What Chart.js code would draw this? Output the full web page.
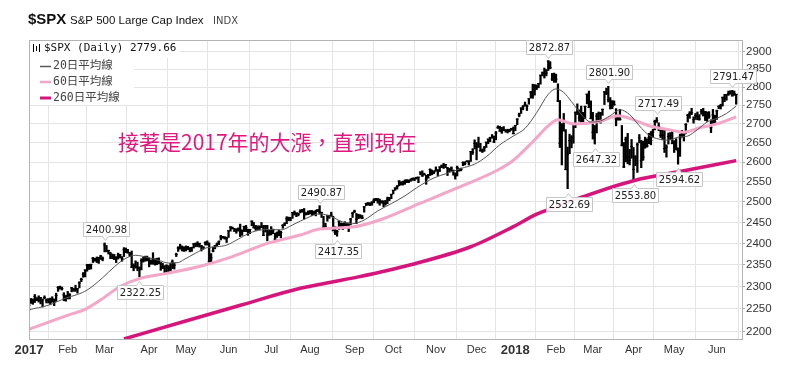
<!DOCTYPE html>
<html lang="zh-Hant">
<head>
  <meta charset="UTF-8">
  <title>$SPX S&amp;P 500 Large Cap Index</title>
  <script src="https://cdn.jsdelivr.net/npm/chart.js@4.4.0/dist/chart.umd.min.js"></script>
  <style>
    html, body { margin: 0; padding: 0; background: #fff; }
    #wrap { width: 800px; height: 368px; }
  </style>
</head>
<body>
  <div id="wrap"><canvas id="spx" width="800" height="368"></canvas></div>

  <script>
    // x axis: trading-day index of the first session of each month
    const monthStarts = [0, 20, 39, 62, 81, 103, 125, 145, 168, 188, 210, 231, 251, 272, 291, 312, 333, 355];
    const monthLabels = ['2017', 'Feb', 'Mar', 'Apr', 'May', 'Jun', 'Jul', 'Aug', 'Sep', 'Oct', 'Nov', 'Dec',
                         '2018', 'Feb', 'Mar', 'Apr', 'May', 'Jun'];
    const yTicks = [2200, 2250, 2300, 2350, 2400, 2450, 2500, 2550, 2600, 2650, 2700, 2750, 2800, 2850, 2900];

    // daily bars, Jan 3 2017 .. Jun 15 2018 (one line per month)
    const highs = [
      2264,2273,2272,2282,2275,2279,2275,2272,2279,2272,2272,2274,2277,2272,2285,2300,2301,2299,2286,2279,
      2289,2284,2298,2296,2303,2296,2311,2319,2332,2338,2351,2351,2351,2367,2365,2368,2367,2372,2368,
      2401,2395,2384,2379,2375,2374,2369,2377,2374,2369,2390,2389,2386,2379,2382,2352,2359,2356,2345,2364,2367,2370,2370,
      2366,2361,2378,2364,2365,2366,2355,2353,2348,2349,2348,2353,2361,2354,2377,2392,2398,2394,2392,
      2394,2393,2390,2391,2399,2401,2404,2400,2395,2392,2404,2406,2401,2376,2391,2395,2401,2406,2419,2416,2416,2415,
      2430,2440,2439,2436,2435,2437,2446,2432,2441,2443,2434,2433,2454,2450,2443,2442,2442,2450,2443,2443,2443,2431,
      2440,2434,2424,2427,2432,2429,2445,2449,2464,2463,2462,2474,2478,2473,2473,2481,2482,2484,2474,2478,
      2479,2479,2477,2480,2481,2491,2475,2465,2448,2468,2467,2475,2465,2440,2431,2453,2449,2448,2452,2449,2449,2460,2475,
      2480,2472,2470,2469,2467,2489,2497,2498,2498,2500,2508,2509,2508,2507,2503,2503,2504,2512,2511,2519,
      2529,2535,2541,2553,2550,2552,2555,2555,2555,2558,2560,2560,2562,2562,2575,2578,2572,2567,2569,2583,2580,2578,
      2588,2581,2588,2593,2597,2594,2587,2584,2588,2580,2573,2590,2584,2585,2601,2601,2604,2604,2628,2635,2658,
      2651,2665,2649,2634,2641,2652,2660,2665,2672,2668,2680,2695,2694,2691,2693,2685,2686,2686,2688,2692,
      2696,2714,2729,2743,2749,2759,2751,2768,2788,2808,2807,2806,2810,2833,2842,2853,2849,2873,2871,2838,2839,
      2836,2809,2763,2701,2728,2685,2639,2673,2669,2702,2732,2754,2738,2748,2731,2748,2781,2789,2762,
      2731,2696,2728,2732,2731,2740,2787,2797,2802,2771,2763,2762,2741,2724,2739,2696,2651,2665,2675,2633,2659,
      2638,2617,2650,2672,2657,2654,2665,2661,2675,2680,2686,2710,2717,2703,2684,2683,2684,2645,2676,2677,2683,
      2655,2661,2637,2673,2683,2676,2701,2726,2733,2742,2719,2728,2732,2725,2739,2742,2733,2732,2733,2711,2739,2723,
      2737,2749,2753,2772,2780,2779,2789,2790,2791,2789,2780
    ];
    const lows = [
      2245,2262,2260,2264,2268,2265,2261,2254,2272,2263,2263,2259,2265,2257,2267,2289,2294,2292,2268,2267,
      2272,2272,2288,2289,2289,2285,2297,2311,2321,2322,2335,2339,2340,2355,2358,2355,2353,2362,2359,
      2380,2380,2375,2364,2364,2362,2355,2363,2366,2358,2369,2378,2377,2369,2344,2336,2342,2336,2322,2338,2356,2358,2359,
      2345,2351,2351,2349,2350,2352,2337,2341,2329,2333,2333,2335,2341,2340,2369,2381,2387,2382,2381,
      2382,2385,2380,2381,2389,2392,2392,2391,2382,2386,2396,2396,2356,2353,2380,2387,2393,2397,2408,2412,2410,2402,
      2414,2429,2434,2429,2424,2429,2416,2419,2428,2428,2419,2423,2442,2437,2431,2433,2433,2437,2419,2427,2406,2419,
      2420,2423,2408,2414,2418,2413,2436,2442,2447,2454,2454,2460,2468,2464,2466,2473,2475,2458,2468,2469,
      2471,2467,2469,2466,2476,2470,2462,2438,2437,2453,2460,2464,2430,2421,2417,2433,2437,2433,2442,2439,2428,2444,2462,
      2474,2447,2459,2460,2459,2475,2491,2492,2491,2492,2498,2503,2497,2492,2497,2488,2492,2496,2503,2508,
      2520,2529,2532,2540,2542,2542,2544,2548,2548,2552,2554,2553,2557,2548,2568,2564,2567,2544,2560,2566,2568,2571,
      2577,2566,2576,2586,2584,2586,2566,2576,2577,2567,2557,2565,2577,2578,2591,2593,2601,2593,2602,2620,2634,
      2606,2639,2628,2625,2628,2638,2648,2653,2663,2651,2658,2688,2681,2675,2682,2678,2676,2679,2683,2674,
      2682,2698,2719,2728,2738,2748,2736,2753,2770,2769,2778,2793,2798,2808,2831,2825,2831,2846,2851,2818,2813,
      2813,2760,2638,2593,2681,2581,2533,2622,2637,2649,2690,2725,2707,2701,2698,2714,2754,2744,2714,
      2660,2647,2676,2711,2702,2723,2752,2779,2759,2740,2741,2750,2695,2710,2710,2642,2586,2601,2596,2593,2610,
      2554,2591,2574,2650,2586,2605,2636,2639,2648,2645,2665,2684,2704,2682,2664,2658,2625,2613,2647,2659,2648,
      2625,2632,2595,2615,2665,2655,2674,2705,2715,2725,2702,2712,2711,2710,2726,2721,2709,2707,2715,2677,2701,2701,
      2712,2741,2740,2748,2760,2764,2777,2780,2775,2777,2753
    ];
    const closes = [
      2258,2271,2269,2277,2269,2269,2275,2270,2275,2268,2272,2264,2271,2265,2280,2298,2297,2295,2281,2279,
      2280,2281,2297,2293,2293,2295,2308,2316,2328,2338,2349,2347,2351,2365,2363,2364,2367,2370,2364,
      2396,2382,2383,2375,2368,2363,2365,2373,2373,2365,2385,2381,2378,2373,2344,2348,2346,2344,2342,2359,2361,2368,2363,
      2359,2360,2353,2357,2356,2357,2354,2345,2329,2349,2342,2338,2356,2349,2374,2389,2387,2389,2384,
      2388,2391,2388,2390,2399,2399,2397,2400,2394,2391,2402,2401,2357,2366,2382,2394,2398,2404,2415,2416,2413,2412,
      2430,2439,2436,2429,2433,2434,2432,2429,2440,2438,2432,2433,2453,2437,2436,2435,2438,2439,2419,2441,2420,2423,
      2429,2433,2410,2425,2427,2426,2443,2448,2459,2459,2461,2474,2473,2473,2470,2477,2478,2475,2472,2470,
      2476,2478,2472,2477,2481,2475,2474,2438,2441,2466,2465,2468,2430,2426,2428,2453,2444,2439,2443,2444,2446,2458,2472,
      2477,2458,2466,2465,2461,2488,2496,2498,2496,2500,2504,2507,2508,2501,2502,2497,2497,2507,2510,2519,
      2529,2535,2538,2552,2549,2545,2551,2555,2551,2553,2558,2559,2561,2562,2575,2565,2569,2557,2560,2581,2573,2575,
      2579,2580,2588,2591,2591,2594,2585,2582,2585,2579,2565,2586,2579,2582,2599,2597,2602,2601,2627,2626,2648,
      2642,2639,2630,2629,2637,2652,2660,2664,2663,2652,2676,2690,2681,2679,2685,2683,2681,2683,2688,2674,
      2696,2713,2724,2743,2748,2751,2748,2768,2786,2776,2803,2798,2810,2833,2839,2838,2839,2873,2854,2822,2824,
      2822,2762,2649,2695,2682,2581,2620,2656,2663,2699,2731,2732,2716,2701,2704,2747,2780,2744,2714,
      2678,2691,2721,2728,2727,2739,2787,2783,2765,2749,2747,2752,2713,2717,2712,2644,2588,2659,2613,2605,2641,
      2582,2614,2645,2663,2604,2613,2657,2642,2664,2656,2678,2706,2709,2693,2670,2670,2635,2639,2667,2670,2648,
      2655,2636,2630,2663,2673,2672,2698,2723,2728,2730,2711,2722,2720,2713,2733,2724,2733,2728,2721,2690,2724,2705,
      2735,2747,2749,2772,2770,2779,2782,2787,2776,2782,2780
    ];

    // moving averages (day index -> value)
    const ma20Days = [0, 10, 19, 25, 30, 38, 44, 50, 55, 61, 67, 72, 77, 80, 86, 92, 97, 102, 108, 114, 120, 124,
                      130, 136, 144, 150, 156, 162, 167, 173, 180, 187, 194, 200, 209, 216, 223, 230, 236, 243, 250,
                      256, 262, 268, 272, 276, 280, 286, 290, 295, 300, 305, 310, 315, 320, 325, 330, 335, 340, 345,
                      350, 355, 360, 365];
    const ma20 = [2248, 2258, 2274, 2282, 2292, 2320, 2345, 2365, 2372, 2367, 2360, 2354, 2355, 2362, 2377, 2390, 2392,
                  2396, 2410, 2425, 2432, 2433, 2432, 2444, 2462, 2471, 2464, 2451, 2447, 2456, 2478, 2496, 2515, 2535,
                  2560, 2572, 2584, 2595, 2614, 2645, 2668, 2688, 2730, 2780, 2795, 2785, 2760, 2720, 2705, 2708, 2722,
                  2738, 2725, 2695, 2670, 2660, 2657, 2665, 2668, 2685, 2705, 2715, 2728, 2748];

    const ma60Days = [0, 21, 28, 37, 47, 57, 71, 88, 105, 123, 140, 150, 167, 181, 202, 221, 242, 250, 260, 268, 273,
                      281, 295, 304, 312, 321, 329, 338, 347, 355, 365];
    const ma60 = [2205, 2237, 2247, 2270, 2300, 2318, 2330, 2346, 2369, 2400, 2420, 2434, 2439, 2456, 2497, 2535, 2580,
                  2605, 2653, 2695, 2711, 2700, 2707, 2722, 2711, 2694, 2686, 2678, 2691, 2700, 2719];

    const ma260Days = [49, 80, 110, 140, 170, 197, 228, 250, 262, 272, 286, 312, 338, 365];
    const ma260 = [2184, 2222, 2259, 2296, 2322, 2350, 2392, 2440, 2470, 2488, 2513, 2553, 2578, 2604];

    // labelled highs and lows
    const calloutDays = [39, 57, 150, 159, 268, 278, 299, 292, 312, 324, 335, 363];
    const calloutValues = [2400.98, 2322.25, 2490.87, 2417.35, 2872.87, 2532.69, 2801.90, 2647.32, 2553.80, 2717.49,
                           2594.62, 2791.47];
    const calloutSide = ['high', 'low', 'high', 'low', 'high', 'low', 'high', 'low', 'low', 'high', 'low', 'high'];

    const SANS = '"Liberation Sans", Arial, sans-serif';

    // title, legend panel, callouts and the note are painted on top of the chart
    const overlay = {
      id: 'overlay',
      beforeDraw(chart) {
        const c = chart.ctx;
        c.save();
        c.fillStyle = '#fff';
        c.fillRect(0, 0, chart.width, chart.height);
        c.restore();
      },
      afterDraw(chart) {
        const c = chart.ctx, a = chart.chartArea;
        const xs = chart.scales.x, ys = chart.scales.y;
        c.save();

        // frame
        c.strokeStyle = '#b4b4b4';
        c.lineWidth = 1;
        c.strokeRect(a.left + 0.5, a.top + 0.5, a.right - a.left, a.bottom - a.top);

        // title
        c.textBaseline = 'alphabetic';
        c.textAlign = 'left';
        c.fillStyle = '#111';
        c.font = 'bold 15px ' + SANS;
        c.fillText('$SPX', 28, 24);
        c.font = '11.5px ' + SANS;
        c.fillText('S&P 500 Large Cap Index', 70, 24);
        c.fillStyle = '#444';
        c.font = '10px "DejaVu Sans", sans-serif';
        c.fillText('INDX', 213, 24);

        // legend panel
        c.fillStyle = '#fff';
        c.fillRect(a.left + 1, a.top + 1, 149, 17);
        c.fillRect(a.left + 1, a.top + 1, 104, 64);
        // little ohlc icon
        c.strokeStyle = '#000';
        c.lineWidth = 1;
        [33.5, 36.5, 39.5].forEach((x, i) => {
          c.beginPath();
          c.moveTo(x, 44 + (i % 2) * 2);
          c.lineTo(x, 52 - (i % 2));
          c.stroke();
        });
        c.textBaseline = 'middle';
        c.fillStyle = '#111';
        c.font = '11px "DejaVu Sans Mono", monospace';
        c.fillText('$SPX (Daily) 2779.66', 44, 48.5);

        const legendRows = [
          ['20日平均線', '#5a5a5a', 1.5, 66.5],
          ['60日平均線', '#f3a6c8', 2.5, 82],
          ['260日平均線', '#d5147c', 3, 98]
        ];
        c.font = '11.5px "DejaVu Sans Mono", "Noto Sans CJK TC", monospace';
        legendRows.forEach(([txt, col, w, y]) => {
          c.strokeStyle = col;
          c.lineWidth = w;
          c.beginPath();
          c.moveTo(40, y);
          c.lineTo(51, y);
          c.stroke();
          c.fillStyle = '#444';
          c.fillText(txt, 53, y);
        });

        // callouts
        c.font = '10px "DejaVu Sans", sans-serif';
        c.textAlign = 'center';
        c.lineWidth = 1;
        calloutDays.forEach((d, i) => {
          const v = calloutValues[i];
          const txt = v.toFixed(2);
          const px = Math.round(xs.getPixelForValue(d)) + 0.5;
          const py = ys.getPixelForValue(v);
          const w = Math.round(c.measureText(txt).width) + 5, h = 14;
          const up = calloutSide[i] === 'high';
          const bx = Math.round(px - w / 2) + 0.5;
          const by = up ? Math.round(py - 7 - h) + 0.5 : Math.round(py + 8) + 0.5;
          c.beginPath();
          if (up) {
            c.moveTo(bx, by);
            c.lineTo(bx + w, by);
            c.lineTo(bx + w, by + h);
            c.lineTo(px + 3, by + h);
            c.lineTo(px, by + h + 4);
            c.lineTo(px - 3, by + h);
            c.lineTo(bx, by + h);
          } else {
            c.moveTo(bx, by);
            c.lineTo(px - 3, by);
            c.lineTo(px, by - 4);
            c.lineTo(px + 3, by);
            c.lineTo(bx + w, by);
            c.lineTo(bx + w, by + h);
            c.lineTo(bx, by + h);
          }
          c.closePath();
          c.fillStyle = 'rgba(255,255,255,0.92)';
          c.fill();
          c.strokeStyle = '#c6c6c6';
          c.stroke();
          c.fillStyle = '#222';
          c.fillText(txt, bx + w / 2, by + h / 2 + 0.5);
        });

        // note
        c.textAlign = 'left';
        c.font = '21px "Noto Sans CJK TC", sans-serif';
        c.fillStyle = '#e0177f';
        c.fillText('接著是2017年的大漲，直到現在', 118, 142);
        c.restore();
      }
    };

    const ctx = document.getElementById('spx').getContext('2d');
    new Chart(ctx, {
      type: 'bar',
      data: {
        datasets: [
          {
            type: 'line',
            data: ma20Days.map((d, i) => ({ x: d, y: ma20[i] })),
            borderColor: '#555',
            borderWidth: 1,
            pointRadius: 0,
            cubicInterpolationMode: 'monotone',
            order: 1
          },
          {
            type: 'line',
            data: ma60Days.map((d, i) => ({ x: d, y: ma60[i] })),
            borderColor: '#f3a6c8',
            borderWidth: 3,
            pointRadius: 0,
            cubicInterpolationMode: 'monotone',
            order: 2
          },
          {
            type: 'line',
            data: ma260Days.map((d, i) => ({ x: d, y: ma260[i] })),
            borderColor: '#d5147c',
            borderWidth: 3.5,
            pointRadius: 0,
            cubicInterpolationMode: 'monotone',
            order: 3
          },
          {
            type: 'line',
            data: closes.map((v, i) => ({ x: i, y: v })),
            showLine: false,
            pointStyle: 'line',
            pointRadius: 1.5,
            pointBorderWidth: 1,
            pointBorderColor: '#000',
            order: 4
          },
          {
            type: 'bar',
            data: highs.map((h, i) => ({ x: i, y: [lows[i], h] })),
            backgroundColor: '#000',
            barThickness: 1.6,
            order: 5
          }
        ]
      },
      options: {
        responsive: false,
        animation: false,
        devicePixelRatio: 1,
        events: [],
        layout: { padding: { left: 29, top: 40, right: 0, bottom: 0 } },
        plugins: { legend: { display: false }, tooltip: { enabled: false } },
        scales: {
          x: {
            type: 'linear',
            min: 0,
            max: 368,
            offset: false,
            afterBuildTicks: scale => { scale.ticks = monthStarts.map(v => ({ value: v })); },
            afterFit: scale => { scale.height = 29; },
            grid: { color: '#e4e4e4', drawTicks: false },
            border: { color: '#a8a8a8' },
            ticks: {
              autoSkip: false,
              maxRotation: 0,
              padding: 4,
              color: '#333',
              font: c => (c.tick && (c.tick.value === 0 || c.tick.value === 251))
                ? { family: SANS, size: 13, weight: 'bold' }
                : { family: SANS, size: 11 },
              callback: v => monthLabels[monthStarts.indexOf(v)]
            }
          },
          y: {
            type: 'logarithmic',
            position: 'right',
            min: 2184,
            max: 2933,
            afterBuildTicks: scale => { scale.ticks = yTicks.map(v => ({ value: v })); },
            afterFit: scale => { scale.width = 58; },
            grid: { color: '#e4e4e4', tickLength: 3, tickColor: '#aaa' },
            border: { color: '#a8a8a8' },
            ticks: {
              padding: 1,
              color: '#333',
              font: { family: SANS, size: 11.5 },
              callback: v => String(v)
            }
          }
        }
      },
      plugins: [overlay]
    });
  </script>
</body>
</html>
